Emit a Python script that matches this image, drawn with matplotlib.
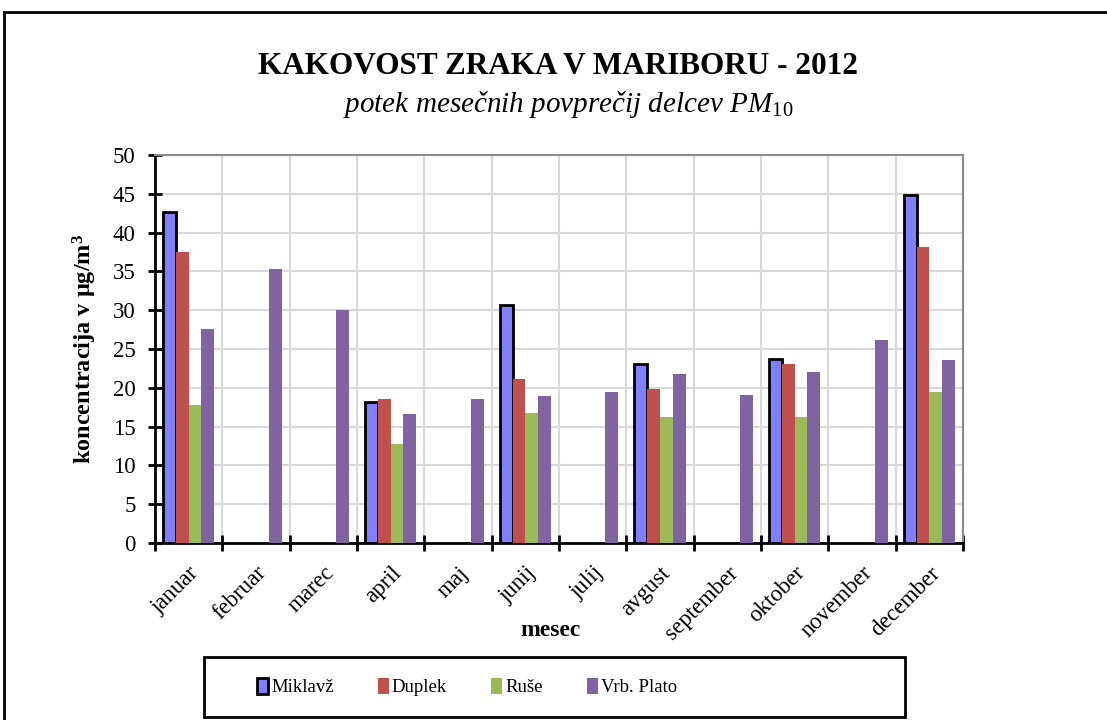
import numpy as np
import matplotlib
matplotlib.use("Agg")
import matplotlib.pyplot as plt
from matplotlib.patches import Rectangle

# monthly PM10 averages (µg/m3), nan = no measurement
months = ["januar", "februar", "marec", "april", "maj", "junij",
          "julij", "avgust", "september", "oktober", "november", "december"]
miklavz = [42.6, np.nan, np.nan, 18.2, np.nan, 30.7, np.nan, 23.1, np.nan, 23.7, np.nan, 44.8]
duplek = [37.5, np.nan, np.nan, 18.6, np.nan, 21.1, np.nan, 19.8, np.nan, 23.1, np.nan, 38.1]
ruse = [17.8, np.nan, np.nan, 12.8, np.nan, 16.8, np.nan, 16.2, np.nan, 16.2, np.nan, 19.4]
vrb_plato = [27.6, 35.3, 30.0, 16.6, 18.6, 18.9, 19.4, 21.8, 19.1, 22.1, 26.1, 23.6]

series = [("Miklavž", miklavz, "#8080FF"),
          ("Duplek", duplek, "#C0504D"),
          ("Ruše", ruse, "#9BBB59"),
          ("Vrb. Plato", vrb_plato, "#8064A2")]

plt.rcParams['font.family'] = ['Liberation Serif', 'DejaVu Serif']
plt.rcParams['mathtext.fontset'] = 'custom'
plt.rcParams['mathtext.rm'] = 'Liberation Serif'
plt.rcParams['mathtext.it'] = 'Liberation Serif:italic'
plt.rcParams['mathtext.bf'] = 'Liberation Serif:bold'

fig = plt.figure(figsize=(11.07, 7.2), dpi=100)
# outer chart border
fig.patches.append(Rectangle((4 / 1107, -0.01), 1.05, 1 - 12 / 720 + 0.01,
                             transform=fig.transFigure, fill=False,
                             edgecolor="black", linewidth=2))

ax = fig.add_axes([155 / 1107, 177 / 720, 808 / 1107, 388 / 720])

x = np.arange(len(months))
bw = 0.19
for i, (name, vals, col) in enumerate(series):
    offs = (i - 1.5) * bw
    if name == "Miklavž":
        ax.bar(x + offs, vals, bw, color=col, edgecolor="black", linewidth=2,
               label=name, zorder=3)
    else:
        ax.bar(x + offs, vals, bw, color=col, edgecolor="none", label=name, zorder=3)

ax.set_xlim(-0.5, len(months) - 0.5)
ax.set_ylim(0, 50)
ax.set_yticks(np.arange(0, 51, 5))
ax.set_xticks(np.arange(-0.5, len(months), 1.0))
ax.set_xticklabels([])
ax.set_xticks(x, minor=True)
ax.set_xticklabels(months, minor=True, rotation=45, ha="right",
                   rotation_mode="anchor", fontsize=16.5)
ax.tick_params(axis="x", which="minor", length=0, pad=14)
ax.tick_params(axis="x", which="major", direction="inout", length=12, width=2)
ax.tick_params(axis="y", direction="inout", length=10, width=2, labelsize=16.5, pad=9)
ax.grid(True, which="major", color="#d9d9d9", linewidth=1.5, zorder=0)
ax.set_axisbelow(True)

for s in ("top", "right"):
    ax.spines[s].set_color("#8c8c8c")
    ax.spines[s].set_linewidth(1.5)
for s in ("left", "bottom"):
    ax.spines[s].set_color("black")
    ax.spines[s].set_linewidth(2)

ax.set_ylabel("koncentracija v µg/m$^\\mathbf{3}$", fontsize=17.5, fontweight="bold", labelpad=10)
fig.text(550 / 1107, 1 - 630 / 720, "mesec", ha="center", va="center",
         fontsize=17, fontweight="bold")

fig.text(558 / 1107, 1 - 66 / 720, "KAKOVOST ZRAKA V MARIBORU - 2012",
         ha="center", va="center", fontsize=22.5, fontweight="bold")
fig.text(568 / 1107, 1 - 105 / 720, "potek mesečnih povprečij delcev PM$_{\\mathit{10}}$",
         ha="center", va="center", fontsize=21, fontstyle="italic")

# legend box
fig.patches.append(Rectangle((204 / 1107, 1 - 717 / 720), 701 / 1107, 60 / 720,
                             transform=fig.transFigure, fill=False,
                             edgecolor="black", linewidth=2))
fig.legend(loc="center left", bbox_to_anchor=(257 / 1107, 1 - 687 / 720), ncol=4,
           frameon=False, fontsize=13.5, handlelength=0.6, handleheight=0.95,
           handletextpad=0.15, columnspacing=2.35, borderpad=0, borderaxespad=0)

fig.savefig("out.png", dpi=100)
